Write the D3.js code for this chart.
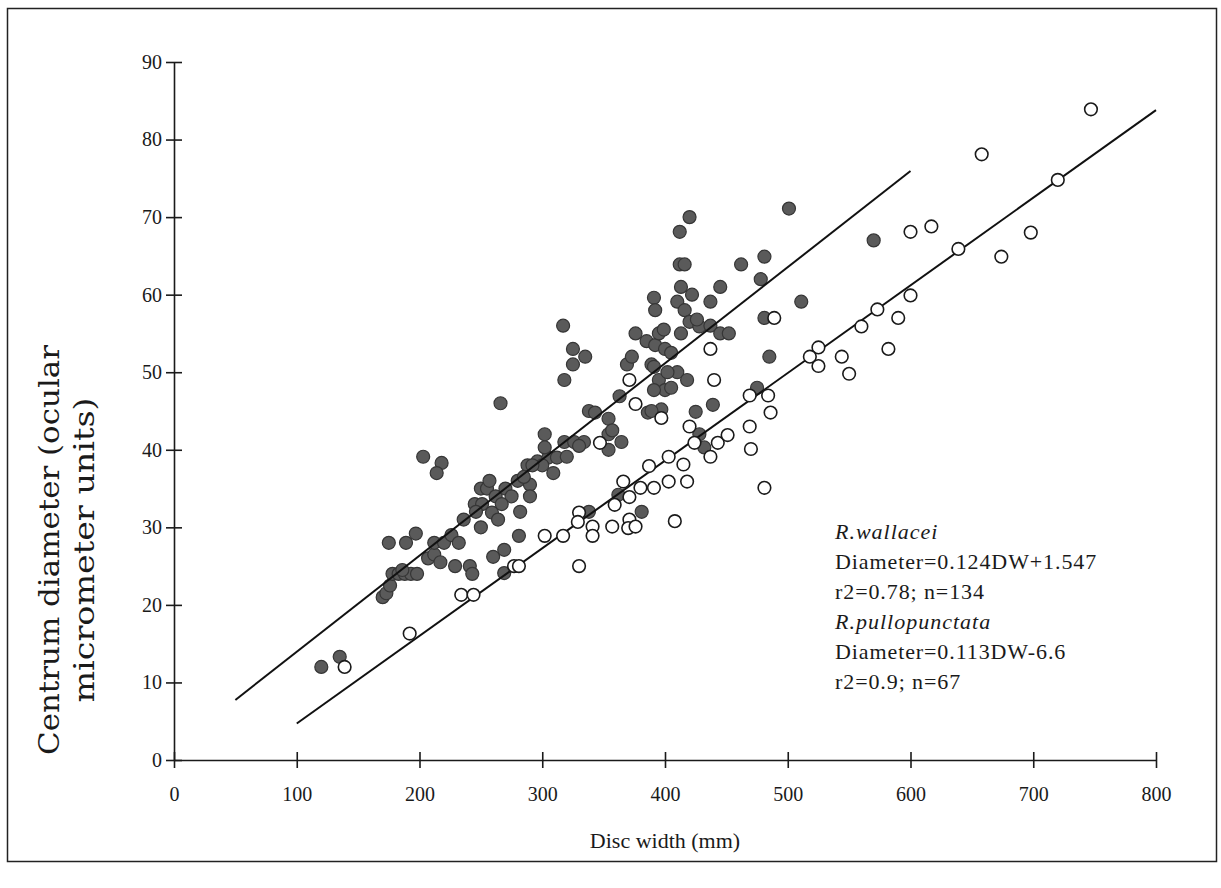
<!DOCTYPE html>
<html>
<head>
<meta charset="utf-8">
<script src="https://cdn.jsdelivr.net/npm/d3@7"></script>
<style>
  body { margin: 0; background: #ffffff; }
  svg { display: block; }
</style>
</head>
<body>
<svg id="chart"></svg>
<script>
"use strict";

const width = 1221;
const height = 888;

// R. wallacei (filled): [disc width, centrum diameter]
const wallacei = [
    [120, 12], [135, 13.3], [170, 21], [173, 21.5], [176, 22.5], [178, 24], [183, 24],
    [188, 24], [193, 24], [198, 24], [175, 28], [189, 28], [197, 29.2], [203, 39.1],
    [218, 38.3], [214, 37], [207, 26], [212, 26.5], [217, 25.5], [212, 28], [220, 28],
    [226, 29], [229, 25], [236, 31], [241, 25], [243, 24], [245, 33], [250, 30],
    [250, 35], [251, 33], [255, 35], [259, 31.9], [262, 34], [264, 31], [260, 26.2],
    [269, 27.1], [269, 24.1], [266, 46], [270, 35], [280, 36], [281, 28.9], [282, 32],
    [290, 35.5], [290, 34], [288, 38], [296, 38.5], [305, 39], [309, 37], [312, 39],
    [320, 39.1], [302, 42], [302, 40.3], [318, 41], [326, 41], [334, 41], [317, 56],
    [325, 53], [335, 52], [325, 51], [318, 49], [338, 45], [343, 44.8], [354, 44],
    [354, 42], [354, 40], [363, 46.9], [364.5, 41], [362, 34.2], [338, 32], [381, 32],
    [369, 51], [376, 55], [373, 52], [385, 54], [392, 53.5], [400, 53], [405, 52.5],
    [395, 55], [391, 59.6], [392, 58], [410, 59.1], [416, 58], [420, 56.5], [413, 55],
    [413, 61], [422, 60], [412, 63.9], [416, 63.9], [412, 68.1], [420, 70], [428, 55.9],
    [437, 56], [445, 55], [452, 55], [437, 59.1], [445, 61], [462, 63.9], [481, 64.9],
    [478, 62], [481, 57], [485, 52], [501, 71.1], [511, 59.1], [570, 67], [389, 51],
    [395, 49], [400, 47.7], [410, 50], [405, 48], [391, 50.7], [386, 44.8], [397, 45.2],
    [425, 44.9], [439, 45.8], [428, 42], [432, 40.3], [475, 48], [391, 47.7], [389, 45],
    [399, 55.5], [275, 34], [285, 36.5], [300, 38], [232, 28], [186, 24.5], [246, 32],
    [330, 40.5], [402, 50], [418, 49], [426, 56.8], [357, 42.5], [292, 38], [267, 33],
    [257, 36]
];

// R. pullopunctata (open)
const pullopunctata = [
    [139, 12], [192, 16.3], [234, 21.3], [244, 21.3], [277, 25], [281, 25], [302, 28.9],
    [317, 28.9], [330, 25], [330, 31.9], [329, 30.7], [341, 30.1], [341, 28.9], [357, 30.1],
    [371, 31], [370, 29.9], [376, 30.1], [408, 30.8], [359, 32.9], [371, 33.9], [366, 35.9],
    [380, 35.1], [391, 35.1], [403, 35.9], [418, 35.9], [387, 37.9], [403, 39.1], [415, 38.1],
    [347, 40.9], [376, 45.9], [371, 49], [397, 44.1], [420, 43], [424, 40.9], [437, 39.1],
    [443, 40.9], [451, 41.9], [437, 53], [440, 49], [469, 47], [484, 47], [486, 44.8],
    [469, 43], [470, 40.1], [481, 35.1], [489, 57], [525, 53.2], [518, 52], [525, 50.8],
    [544, 52], [550, 49.8], [560, 55.9], [582, 53], [573, 58.1], [590, 57], [600, 59.9],
    [600, 68.1], [617, 68.8], [639, 65.9], [674, 64.9], [698, 68], [658, 78.1], [720, 74.8],
    [747, 83.9]
];

// regression lines: slope, intercept, x range
const fit_wallacei = { slope: 0.124, intercept: 1.547, from: 50, to: 600 };
const fit_pullo = { slope: 0.113, intercept: -6.6, from: 100, to: 800 };

const x_ticks = [0, 100, 200, 300, 400, 500, 600, 700, 800];
const y_ticks = [0, 10, 20, 30, 40, 50, 60, 70, 80, 90];

const notes = [
    { text: "R.wallacei", italic: true },
    { text: "Diameter=0.124DW+1.547", italic: false },
    { text: "r2=0.78; n=134", italic: false },
    { text: "R.pullopunctata", italic: true },
    { text: "Diameter=0.113DW-6.6", italic: false },
    { text: "r2=0.9; n=67", italic: false }
];

const font = "'Liberation Serif', 'Times New Roman', serif";

const svg = d3.select("#chart")
    .attr("width", width)
    .attr("height", height);

// frame
svg.append("rect")
    .attr("x", 7.5).attr("y", 8.5)
    .attr("width", 1209).attr("height", 853)
    .attr("fill", "none")
    .attr("stroke", "#222")
    .attr("stroke-width", 1.5);

const x = d3.scaleLinear().domain([0, 800]).range([174, 1156]);
const y = d3.scaleLinear().domain([0, 90]).range([760, 62]);

// y axis
const yAxis = svg.append("g")
    .attr("transform", `translate(${x(0)},0)`)
    .call(d3.axisLeft(y).tickValues(y_ticks).tickSizeInner(8).tickSizeOuter(0).tickPadding(4));
yAxis.selectAll(".tick line").attr("x1", 8);

// x axis
const xAxis = svg.append("g")
    .attr("transform", `translate(0,${y(0)})`)
    .call(d3.axisBottom(x).tickValues(x_ticks).tickSizeInner(8).tickSizeOuter(0).tickPadding(19));
xAxis.selectAll(".tick line").attr("y1", -8);

svg.selectAll(".domain, .tick line")
    .attr("stroke", "#1a1a1a")
    .attr("stroke-width", 1.6);
svg.selectAll("g").attr("font-size", null).attr("font-family", null);
svg.selectAll(".tick text")
    .attr("fill", "#1a1a1a")
    .attr("font-family", font)
    .attr("font-size", 20);

// axis titles
svg.append("text")
    .attr("x", (x(0) + x(800)) / 2)
    .attr("y", 848)
    .attr("text-anchor", "middle")
    .style("font-family", font)
    .style("font-size", "22px")
    .attr("fill", "#1a1a1a")
    .text("Disc width (mm)");

const yTitle = svg.append("text")
    .attr("transform", "translate(0,550) rotate(-90)")
    .attr("text-anchor", "middle")
    .style("font-family", "'DejaVu Serif Condensed', 'DejaVu Serif', serif")
    .style("font-size", "28px")
    .attr("fill", "#1a1a1a");
yTitle.append("tspan").attr("x", 0).attr("y", 59)
    .attr("textLength", 410).attr("lengthAdjust", "spacingAndGlyphs")
    .text("Centrum diameter (ocular");
yTitle.append("tspan").attr("x", 0).attr("y", 94)
    .attr("textLength", 305).attr("lengthAdjust", "spacingAndGlyphs")
    .text("micrometer units)");

// points
svg.append("g")
    .selectAll("circle")
    .data(wallacei)
    .enter()
    .append("circle")
    .attr("cx", d => x(d[0]))
    .attr("cy", d => y(d[1]))
    .attr("r", 6.5)
    .attr("fill", "#5a5a5a")
    .attr("stroke", "#363636")
    .attr("stroke-width", 1.2);

// regression lines
const fits = [fit_wallacei, fit_pullo];
svg.append("g")
    .selectAll("line")
    .data(fits)
    .enter()
    .append("line")
    .attr("x1", d => x(d.from))
    .attr("y1", d => y(d.slope * d.from + d.intercept))
    .attr("x2", d => x(d.to))
    .attr("y2", d => y(d.slope * d.to + d.intercept))
    .attr("stroke", "#111")
    .attr("stroke-width", 2);

svg.append("g")
    .selectAll("circle")
    .data(pullopunctata)
    .enter()
    .append("circle")
    .attr("cx", d => x(d[0]))
    .attr("cy", d => y(d[1]))
    .attr("r", 6.3)
    .attr("fill", "#ffffff")
    .attr("stroke", "#1a1a1a")
    .attr("stroke-width", 1.6);

// annotation
svg.append("g")
    .selectAll("text")
    .data(notes)
    .enter()
    .append("text")
    .attr("x", 835)
    .attr("y", (d, i) => 539 + i * 30)
    .style("font-family", font)
    .style("font-size", "22px")
    .style("font-style", d => d.italic ? "italic" : "normal")
    .style("letter-spacing", d => d.italic ? "1px" : "0.9px")
    .attr("fill", "#1a1a1a")
    .text(d => d.text);
</script>
</body>
</html>
